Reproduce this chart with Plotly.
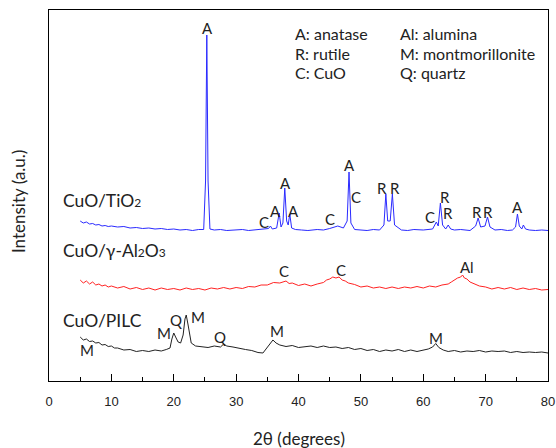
import plotly.graph_objects as go

# ---------------- data (intensity in arbitrary units, offset stacked) -------------
tio2_x = [5, 5.5, 6, 6.5, 7, 7.5, 8, 8.5, 9, 9.5, 10, 11, 12, 13, 14, 15, 16, 17, 18, 19, 20, 21, 22, 23, 24,
          24.8, 25.1, 25.3, 25.5, 25.8, 26.5, 27.5, 28.5, 30, 31, 32, 33, 34, 35.2, 35.5, 35.8, 36.5, 36.9, 37.2,
          37.5, 37.8, 38.1, 38.35, 38.6, 38.9, 39.5, 40.5, 41.5, 43, 44, 45, 46.3, 47.2, 47.8, 48.1, 48.4, 49,
          50, 51, 52, 53, 53.7, 54.0, 54.3, 54.7, 55.05, 55.4, 56.5, 57.5, 58.5, 60, 61.5, 62.1, 62.4, 62.75,
          63.1, 63.6, 64.0, 64.4, 65, 66, 67.5, 68.4, 68.8, 69.2, 69.9, 70.3, 70.7, 71.5, 72.5, 73.5, 74.3,
          74.8, 75.1, 75.4, 75.8, 76.05, 76.4, 77, 78, 79, 80]
tio2_y = [160, 158, 159, 157, 157.5, 156, 156.5, 155, 155.5, 154.5, 155, 154, 154.5, 153, 153.5, 152.5, 153,
          152, 152.5, 151.5, 152, 151, 151.5, 150.5, 151.5,
          151.5, 200, 346, 200, 152, 151, 151.5, 150.5, 151, 151.5, 150.5, 151, 151.5, 152.5, 155, 152, 153,
          168, 154, 158, 193, 160, 156, 167, 153, 151.5, 151, 150.5, 151.5, 151, 152.5, 155, 153, 160, 209,
          158, 151.5, 151, 150.5, 151.5, 151, 156, 187, 160, 160, 187, 156, 151, 150.5, 151.5, 151, 152, 159,
          155, 178, 156, 152, 156, 152, 151, 151.5, 150.5, 155, 163, 154, 155, 164, 154, 151, 151.5, 150.5,
          151, 154, 167, 155, 152, 156, 152, 151, 150.5, 151, 150.5]

al2o3_x = [5, 5.5, 6, 6.5, 7, 7.5, 8, 8.5, 9, 9.5, 10, 11, 12, 13, 14, 15, 16, 17, 18, 19, 20, 21, 22, 23,
           24, 25, 26, 27, 28, 29, 30, 31, 32, 33, 34, 35, 36, 37, 38, 38.5, 39, 40, 41, 42, 43, 44, 44.5,
           45, 45.5, 46, 46.5, 47, 47.5, 48, 49, 50, 51, 52, 53, 54, 55, 56, 57, 58, 59, 60, 61, 62, 63, 64,
           64.5, 65, 65.5, 66, 66.3, 66.6, 67, 67.5, 68, 69, 70, 71, 72, 73, 74, 75, 76, 77, 78, 79, 80]
al2o3_y = [101, 98, 100, 97, 99, 96, 97, 95, 96, 94, 95, 93, 94.5, 92, 93.5, 91.5, 93, 91, 93, 91.5, 92.5,
           91, 93, 91.5, 92.5, 91, 93, 92, 93.5, 92, 93.5, 92.5, 94.5, 94, 96, 96, 98.5, 98, 100, 97.5, 98,
           95.5, 97, 95, 97, 98.5, 101, 102, 104, 103, 104, 101, 100, 98, 96.5, 94, 95, 93, 94, 92.5, 94,
           92.5, 94, 93, 94.5, 93, 95, 94, 96, 97, 99, 101, 103, 104, 106, 103, 102, 99, 97.5, 95, 94, 92,
           93.5, 92, 93.5, 91.5, 93, 91.5, 92.5, 91, 91.5]

pilc_x = [5, 5.5, 6, 6.5, 7, 7.5, 8, 8.5, 9, 9.5, 10, 10.5, 11, 12, 13, 14, 15, 16, 17, 18, 18.8, 19.4,
          19.7, 20.0, 20.3, 20.7, 21.1, 21.5, 21.8, 22.0, 22.3, 22.8, 23.5, 24.5, 25.5, 26.5, 27.5, 28, 28.5,
          29.5, 30.5, 31.5, 32.5, 33.5, 34.3, 35, 35.5, 35.9, 36.4, 37, 38, 39, 40, 41, 42, 43, 44, 45, 46,
          47, 48, 49, 50, 51, 52, 53, 54, 55, 56, 57, 58, 59, 60, 60.8, 61.5, 62.0, 62.5, 63.2, 64, 65, 66,
          67, 68, 69, 70, 71, 72, 73, 74, 75, 76, 77, 78, 79, 80]
pilc_y = [44, 41, 42, 39.5, 40, 38, 38.5, 36, 36.5, 34.5, 35, 33, 33, 31, 31.5, 29.5, 30.5, 29.5, 31, 30, 31.5,
          33, 42, 48, 44, 39, 38, 46, 62, 66, 56, 38, 35, 34.5, 33.5, 35, 34, 37, 35, 34, 32.5, 31.5, 30.5,
          28.5, 28, 34, 38, 41, 38, 36, 34.5, 35.5, 33.5, 34.5, 35, 33.5, 35, 33.5, 34, 32.5, 33.5, 31.5,
          32.5, 30.5, 31.5, 29.5, 31, 30, 31.5, 29.5, 31, 29.5, 31, 32, 34, 37.5, 33.5, 31, 29.5, 30.5, 29,
          30, 29.5, 30.5, 29, 30, 29.5, 30, 28.5, 29.5, 28.5, 29, 28.5, 29, 28]

SUB = "<span style='font-size:12px'>{}</span>"
series_names = ["CuO/TiO" + SUB.format("2"),
                "CuO/γ-Al" + SUB.format("2") + "O" + SUB.format("3"),
                "CuO/PILC"]

# peak labels: (text, 2theta, intensity)
peak_labels = [
    ("A", 25.33, 353), ("A", 37.84, 198), ("C", 34.47, 159), ("A", 36.39, 170), ("A", 39.12, 170),
    ("C", 45.05, 162), ("A", 48.10, 216), ("C", 49.22, 184), ("R", 53.39, 193), ("R", 55.47, 193),
    ("C", 61.08, 164), ("R", 63.49, 184), ("R", 63.97, 168), ("R", 68.62, 169), ("R", 70.38, 169),
    ("A", 75.03, 174),
    ("C", 37.68, 110), ("C", 46.81, 111), ("Al", 67.01, 114),
    ("M", 6.09, 31), ("M", 18.44, 48), ("Q", 20.36, 61), ("M", 23.89, 64), ("Q", 27.41, 44),
    ("M", 36.55, 50), ("M", 62.04, 43),
]

key_left = ["A: anatase", "R: rutile", "C: CuO"]
key_right = ["Al: alumina", "M: montmorillonite", "Q: quartz"]

x_ticks = [0, 10, 20, 30, 40, 50, 60, 70, 80]

# ---------------- figure -------------
LBL = "Lato, 'Open Sans', sans-serif"
fig = go.Figure()
for xs, ys, col in [(tio2_x, tio2_y, "#2a2aff"), (al2o3_x, al2o3_y, "#ff2222"), (pilc_x, pilc_y, "#222222")]:
    fig.add_trace(go.Scatter(x=xs, y=ys, mode="lines", line=dict(color=col, width=1), showlegend=False,
                             hoverinfo="skip"))

ann = []
for t, x, y in peak_labels:
    ann.append(dict(x=x, y=y, text=t, showarrow=False, xref="x", yref="y",
                    font=dict(family=LBL, size=15, color="#222")))
for name, y in zip(series_names, [181, 131, 61]):
    ann.append(dict(x=2.0, y=y, text=name, showarrow=False, xref="x", yref="y", xanchor="left",
                    font=dict(family=LBL, size=17.5, color="#222")))
for i, (a, b) in enumerate(zip(key_left, key_right)):
    yy = [348, 328, 309][i]
    ann.append(dict(x=39.12, y=yy, text=a, showarrow=False, xref="x", yref="y", xanchor="left",
                    font=dict(family=LBL, size=16, color="#222")))
    ann.append(dict(x=56.0, y=yy, text=b, showarrow=False, xref="x", yref="y", xanchor="left",
                    font=dict(family=LBL, size=16, color="#222")))
ann.append(dict(x=0.5, y=-0.156, xref="paper", yref="paper", text="2θ (degrees)", showarrow=False,
                yanchor="middle", font=dict(family=LBL, size=17, color="#222")))
ann.append(dict(x=-0.06, y=0.4825, xref="paper", yref="paper", text="Intensity (a.u.)", showarrow=False,
                textangle=-90, xanchor="center", yanchor="middle", font=dict(family=LBL, size=17, color="#222")))

fig.update_layout(
    width=556, height=448,
    margin=dict(l=49, r=8, t=10, b=67, autoexpand=False),
    paper_bgcolor="white", plot_bgcolor="white",
    annotations=ann,
    xaxis=dict(range=[0, 80], tickvals=x_ticks, ticks="inside", ticklen=7, tickwidth=1, tickcolor="black",
               minor=dict(dtick=5, ticks="inside", ticklen=4, tickcolor="black", tickwidth=1),
               showline=True, linecolor="black", linewidth=1.3, mirror=True, showgrid=False, zeroline=False,
               automargin=False,
               tickfont=dict(family="Liberation Sans, Arial", size=13, color="#222"), ticklabelstandoff=8),
    yaxis=dict(range=[0, 371], showticklabels=False, ticks="", showline=True, linecolor="black",
               linewidth=1.3, mirror=True, showgrid=False, zeroline=False, automargin=False),
)

fig.write_html("out.html", config={"displayModeBar": False},
               post_script="document.body.style.margin='0';document.body.style.overflow='hidden';")
